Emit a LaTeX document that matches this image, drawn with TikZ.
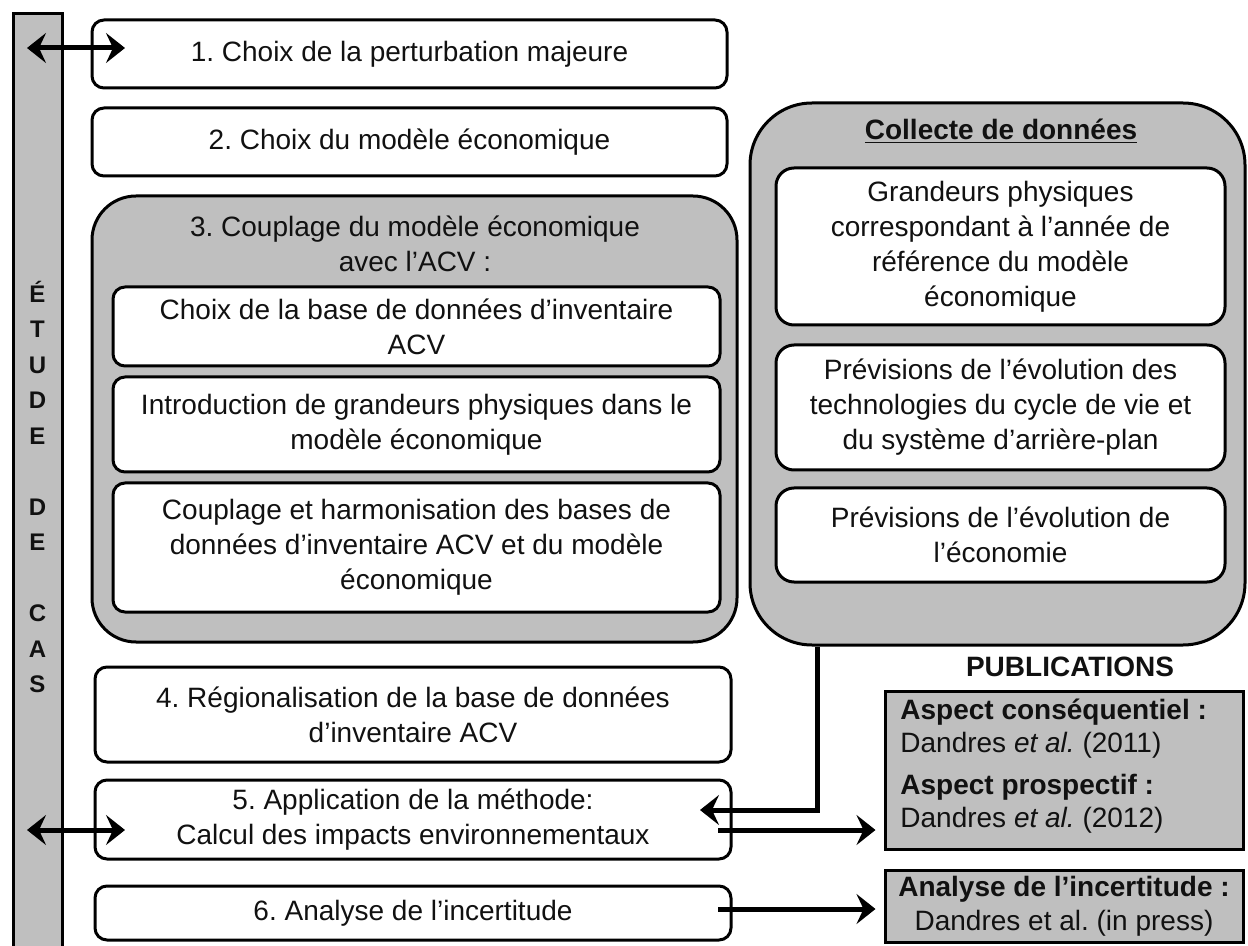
\documentclass[tikz,border=0pt]{standalone}
\usepackage{fontspec}
\setmainfont{Liberation Sans}
\usetikzlibrary{arrows.meta}
\frenchspacing
\definecolor{fillgray}{RGB}{191,191,191}
\definecolor{ink}{RGB}{17,17,17}
\tikzset{
 box/.style={draw=black, line width=1.5pt, rounded corners=6pt, fill=white, align=center, text=ink,
   font=\fontsize{14}{17.5}\selectfont, inner sep=0pt},
 bigbox/.style={draw=black, line width=1.5pt, fill=fillgray, inner sep=0pt},
 pubbox/.style={draw=black, line width=1.5pt, fill=fillgray, inner sep=0pt},
 txt/.style={align=center, text=ink, font=\fontsize{14}{17.5}\selectfont, inner sep=0pt},
 tip/.tip={Stealth[length=9.5pt,width=15pt,inset=3.5pt]},
 arr/.style={line width=2.5pt, -tip},
 darr/.style={line width=2.5pt, tip-tip},
}
\begin{document}
\begin{tikzpicture}[x=0.5pt,y=-0.5pt]
\useasboundingbox (0,0) rectangle (1248,946);
% left bar
\path[fill=fillgray] (13,14) rectangle (62,950);
\draw[line width=1.5pt] (13,950) -- (13,14) -- (62,14) -- (62,950);
\node[align=center, text=ink, font=\fontsize{12}{17.75}\selectfont\bfseries, inner sep=0pt] (etude) at (37.5,487)
 {É\\T\\U\\D\\E\\~\\D\\E\\~\\C\\A\\S};

% main column
\node[box, minimum width=317.5pt, minimum height=34pt] (b1) at (409.5,54) {1. Choix de la perturbation majeure};
\node[box, minimum width=317.5pt, minimum height=34pt] (b2) at (409.5,142) {2. Choix du modèle économique};
\node[bigbox, rounded corners=22pt, minimum width=322.5pt, minimum height=223pt] (b3) at (414.5,419) {};
\node[txt] (t3) at (415,244) {3. Couplage du modèle économique\\avec l’ACV :};
\node[box, minimum width=303.5pt, minimum height=39.5pt] (b3a) at (416.5,326.5) {Choix de la base de données d’inventaire\\ACV};
\node[box, minimum width=303.5pt, minimum height=47.5pt] (b3b) at (416.5,424.5) {Introduction de grandeurs physiques dans le\\modèle économique};
\node[box, minimum width=303.5pt, minimum height=64.5pt] (b3c) at (416.5,547.5) {Couplage et harmonisation des bases de\\données d’inventaire ACV et du modèle\\économique};
\node[box, minimum width=318pt, minimum height=47.5pt] (b4) at (413,714.5) {4. Régionalisation de la base de données\\d’inventaire ACV};
\node[box, minimum width=318pt, minimum height=39.5pt] (b5) at (413,819.5) {5. Application de la méthode:\\Calcul des impacts environnementaux};
\node[box, minimum width=318pt, minimum height=27pt] (b6) at (413,913) {6. Analyse de l’incertitude};

% data collection
\node[bigbox, rounded corners=31pt, minimum width=247.5pt, minimum height=271pt] (coll) at (997.5,374) {};
\node[txt, font=\fontsize{14}{17.5}\selectfont\bfseries] (tcoll) at (1001,131) {\underline{Collecte de données}};
\node[box, rounded corners=9pt, minimum width=224.5pt, minimum height=78.5pt] (ca) at (1000.5,246.5) {Grandeurs physiques\\correspondant à l’année de\\référence du modèle\\économique};
\node[box, rounded corners=9pt, minimum width=224.5pt, minimum height=62.5pt] (cb) at (1000.5,407.5) {Prévisions de l’évolution des\\technologies du cycle de vie et\\du système d’arrière-plan};
\node[box, rounded corners=9pt, minimum width=224.5pt, minimum height=47pt] (cc) at (1000.5,535) {Prévisions de l’évolution de\\l’économie};

% publications
\node[txt, font=\fontsize{14}{17.5}\selectfont\bfseries] (tpub) at (1070,667) {PUBLICATIONS};
\node[pubbox, minimum width=179pt, minimum height=79pt] (p1) at (1064,770) {};
\node[anchor=west, align=left, text=ink, font=\fontsize{14}{16.5}\selectfont, inner sep=0pt] (p1t) at (900,766)
 {\textbf{Aspect conséquentiel :}\\Dandres \textit{et al.} (2011)\\[4.5pt]\textbf{Aspect prospectif :}\\Dandres \textit{et al.} (2012)};
\node[pubbox, minimum width=179pt, minimum height=36pt, align=center, text=ink, font=\fontsize{14}{17}\selectfont] (p2) at (1064,906)
 {\textbf{Analyse de l’incertitude :}\\Dandres et al. (in press)};

% connectors
\coordinate (l1a) at (27,48);
\coordinate (l1b) at (125,48);
\draw[darr] (l1a) -- (l1b);
\coordinate (l5a) at (27,830);
\coordinate (l5b) at (125,830);
\draw[darr] (l5a) -- (l5b);
\coordinate (cbend) at (817,810);
\coordinate (cend) at (700,810);
\draw[arr, line join=miter] (coll.south -| cbend) -- (cbend) -- (cend);
\coordinate (a5) at (718,830);
\draw[arr, shorten >=4pt] (a5) -- (a5 -| p1.west);
\coordinate (a6) at (718,909);
\draw[arr, shorten >=4pt] (a6) -- (a6 -| p2.west);
\end{tikzpicture}
\end{document}
